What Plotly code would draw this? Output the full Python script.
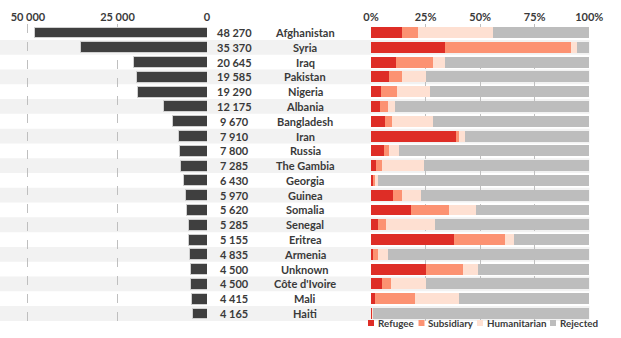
import plotly.graph_objects as go

countries = ["Afghanistan", "Syria", "Iraq", "Pakistan", "Nigeria", "Albania", "Bangladesh",
             "Iran", "Russia", "The Gambia", "Georgia", "Guinea", "Somalia", "Senegal",
             "Eritrea", "Armenia", "Unknown", "Côte d'Ivoire", "Mali", "Haiti"]
applications = [48270, 35370, 20645, 19585, 19290, 12175, 9670, 7910, 7800, 7285,
                6430, 5970, 5620, 5285, 5155, 4835, 4500, 4500, 4415, 4165]
refugee =      [14.4, 34.1, 11.3, 8.4, 4.6, 4.1, 6.4, 38.9, 6.1, 2.3, 0.8, 10.3, 18.5, 3.1, 37.8, 1.1, 25.4, 4.9, 2.0, 0.8]
subsidiary =   [7.2, 57.5, 17.3, 6.0, 7.2, 3.9, 3.4, 1.4, 2.3, 2.6, 1.0, 4.1, 17.0, 3.8, 23.8, 2.1, 16.6, 4.3, 18.1, 0.1]
humanitarian = [34.3, 2.6, 5.1, 10.6, 15.0, 3.0, 18.7, 2.7, 4.2, 19.3, 1.6, 8.7, 12.4, 22.2, 3.8, 4.8, 6.9, 15.9, 20.3, 0.2]
rejected = [round(100 - a - b - c, 1) for a, b, c in zip(refugee, subsidiary, humanitarian)]

left_ticks = [50000, 25000, 0]
left_ticktext = ["50 000", "25 000", "0"]
right_ticks = [0, 25, 50, 75, 100]
right_ticktext = ["0%", "25%", "50%", "75%", "100%"]
series_names = ["Refugee", "Subsidiary", "Humanitarian", "Rejected"]
series_colors = ["#de2d26", "#fc9272", "#fee0d2", "#bdbdbd"]

W, H = 621, 338
MT, MB = 24, 16
PH = H - MT - MB
FONT = "Lato"
TXT = "#3a3a3a"
FS = 11
LFS = 9.8

def px_x(p):
    return p / W

def px_y(p):
    return (H - MB - p) / PH

fig = go.Figure()
fig.add_trace(go.Bar(
    y=countries, x=applications, orientation="h", xaxis="x", yaxis="y",
    marker=dict(color="#3f3f3f", line=dict(color="#d0d0d0", width=1)),
    width=0.74, showlegend=False, hoverinfo="x+y"))

for name, vals, col in zip(series_names, [refugee, subsidiary, humanitarian, rejected], series_colors):
    fig.add_trace(go.Bar(
        y=countries, x=vals, orientation="h", xaxis="x2", yaxis="y", name=name,
        marker=dict(color=col, line=dict(width=0)), width=0.74, showlegend=False))

shapes = []
for i, c in enumerate(countries):
    if i % 2 == 1:
        shapes.append(dict(type="rect", xref="paper", yref="y", x0=0, x1=px_x(589.5),
                           y0=i - 0.5, y1=i + 0.5, fillcolor="#f2f2f2", line=dict(width=0),
                           layer="below"))

annotations = []
for c, v in zip(countries, applications):
    annotations.append(dict(x=px_x(234), y=c, xref="paper", yref="y", xanchor="center",
                            text=f"{v:,}".replace(",", " "), showarrow=False,
                            font=dict(family=FONT, size=FS, color=TXT, weight="bold")))
    annotations.append(dict(x=px_x(305), y=c, xref="paper", yref="y", xanchor="center",
                            text=c, showarrow=False,
                            font=dict(family=FONT, size=FS, color=TXT, weight="bold")))

# manual legend
leg_sq = [368, 418.5, 477, 550]
for name, col, x0 in zip(series_names, series_colors, leg_sq):
    shapes.append(dict(type="rect", xref="paper", yref="paper", x0=px_x(x0), x1=px_x(x0 + 6),
                       y0=px_y(326), y1=px_y(320), fillcolor=col, line=dict(width=0)))
    annotations.append(dict(x=px_x(x0 + 7.5), y=px_y(323), xref="paper", yref="paper",
                            xanchor="left", yanchor="middle", text=name, showarrow=False,
                            font=dict(family=FONT, size=LFS, color=TXT, weight="bold")))

grid = dict(showgrid=True, gridcolor="#bfbfbf", griddash="dash", gridwidth=1, zeroline=False,
            side="top", ticks="", showline=False, automargin=False,
            tickfont=dict(family=FONT, size=FS, color=TXT, weight="bold"))

fig.update_layout(
    width=W, height=H, margin=dict(l=0, r=0, t=MT, b=MB, pad=0, autoexpand=False),
    paper_bgcolor="white", plot_bgcolor="rgba(0,0,0,0)",
    barmode="stack", bargap=0.26,
    xaxis=dict(domain=[0, px_x(207)], range=[57800, 0], tickvals=left_ticks,
               ticktext=left_ticktext, anchor="y", **grid),
    xaxis2=dict(domain=[px_x(371), px_x(589.3)], range=[0, 100], tickvals=right_ticks,
                ticktext=right_ticktext, anchor="y", **grid),
    yaxis=dict(autorange="reversed", showticklabels=False, showgrid=False, zeroline=False,
               ticks="", anchor="x", automargin=False),
    shapes=shapes, annotations=annotations, showlegend=False,
)

fig.write_html("out.html")
